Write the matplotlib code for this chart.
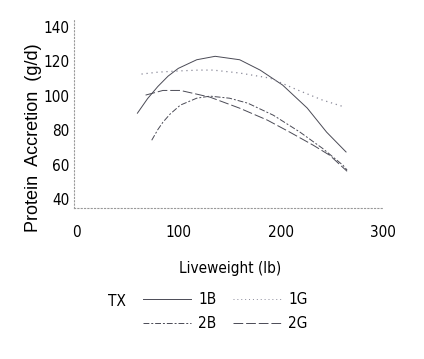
import matplotlib.pyplot as plt
from matplotlib.lines import Line2D

# values
x_1b = [60, 70, 80, 90, 100, 118, 136, 160, 180, 202, 226, 245, 264]
y_1b = [90, 98.5, 105.5, 111.5, 116, 121, 123, 121, 115, 106.3, 93, 79, 67.5]

x_1g = [64, 80, 100, 120, 134, 160, 190, 216, 241, 263]
y_1g = [112.7, 113.8, 114.5, 115, 115, 113.3, 110.3, 103.6, 97.6, 93.5]

x_2b = [74, 80, 85, 92, 102, 118, 131, 150, 168, 193, 219, 241, 261, 265]
y_2b = [74.3, 80.5, 84.8, 89.5, 94.7, 98.7, 99.9, 98.7, 95.8, 88.8, 79, 69.6, 59.8, 57]

x_2g = [68, 85, 102, 131, 160, 187, 209, 232, 248, 265]
y_2g = [100.5, 103.2, 103.2, 99.3, 92.9, 86, 79, 71.4, 65.6, 56.3]

xticks = [0, 100, 200, 300]
yticks = [40, 60, 80, 100, 120, 140]

line_col = "#4a4a55"
dot_col = "#8a8a99"
styles = {
    "1B": dict(linestyle="-"),
    "1G": dict(linestyle=(0, (1, 3))),
    "2B": dict(linestyle=(0, (6, 2, 2, 2))),
    "2G": dict(linestyle=(0, (10, 3))),
}

fig = plt.figure(figsize=(4.24, 3.59), dpi=100)
ax = fig.add_axes([0.1745, 0.4206, 0.7285, 0.5234])

ax.plot(x_1b, y_1b, color=line_col, lw=0.7, **styles["1B"])
ax.plot(x_1g, y_1g, color=dot_col, lw=0.9, **styles["1G"])
ax.plot(x_2b, y_2b, color=line_col, lw=0.7, **styles["2B"])
ax.plot(x_2g, y_2g, color=line_col, lw=0.7, **styles["2G"])

ax.set_xlim(-2, 300)
ax.set_ylim(35, 144)
ax.set_xticks(xticks)
ax.set_yticks(yticks)

font = ["DejaVu Sans"]
for lab in ax.get_xticklabels() + ax.get_yticklabels():
    lab.set_family(font)
    lab.set_stretch("condensed")
    lab.set_fontsize(11)
ax.tick_params(length=0, pad=12)
ax.tick_params(axis="y", pad=3)

for s in ["top", "right"]:
    ax.spines[s].set_visible(False)
for s in ["left", "bottom"]:
    ax.spines[s].set_linestyle((0, (1, 2)))
    ax.spines[s].set_color("#999999")
    ax.spines[s].set_linewidth(0.8)

fig.text(0.078, 0.616, "Protein  Accretion  (g/d)", rotation=90, ha="center",
         va="center", family=["Liberation Sans", "DejaVu Sans"], fontsize=13)
fig.text(0.543, 0.253, "Liveweight (lb)", ha="center", va="center",
         family=font, stretch="condensed", fontsize=11)

# legend
fig.text(108 / 424, 1 - 301 / 359, "TX", family=font, stretch="condensed",
         fontsize=11, va="center")
entries = [("1B", 143, 299), ("1G", 233, 299), ("2B", 143, 323), ("2G", 233, 323)]
for name, x0, y0 in entries:
    yy = 1 - y0 / 359
    col = dot_col if name == "1G" else line_col
    fig.add_artist(Line2D([x0 / 424, (x0 + 48) / 424], [yy, yy], color=col,
                          lw=0.7, **styles[name]))
    fig.text((x0 + 55) / 424, yy, name, family=font, stretch="condensed",
             fontsize=11, va="center")

fig.savefig("out.png", dpi=100)
